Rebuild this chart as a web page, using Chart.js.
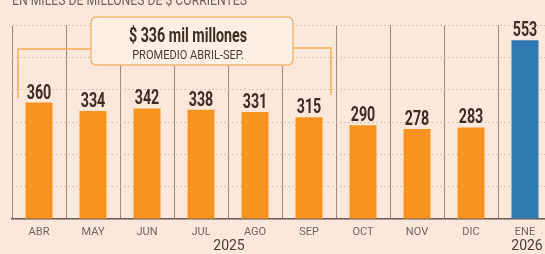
<!DOCTYPE html>
<html>
<head>
<meta charset="utf-8">
<script src="https://cdn.jsdelivr.net/npm/chart.js@4"></script>
<style>
  html, body { margin: 0; padding: 0; background: #fbe8da; overflow: hidden; }
  #wrap { width: 545px; height: 254px; overflow: hidden; position: relative; }
  canvas { position: absolute; left: 0; top: 0; }
</style>
</head>
<body>
<div id="wrap"><canvas id="chart" width="560" height="254"></canvas></div>
<script>
// ── Data ────────────────────────────────────────────────────
const months = ['ABR', 'MAY', 'JUN', 'JUL', 'AGO', 'SEP', 'OCT', 'NOV', 'DIC', 'ENE'];
const values = [360, 334, 342, 338, 331, 315, 290, 278, 283, 553];
const years = [{ text: '2025', x: 229 }, { text: '2026', x: 527 }];
const avgTitle = '$ 336 mil millones';
const avgSub = 'PROMEDIO ABRIL-SEP.';
const title = 'EN MILES DE MILLONES DE $ CORRIENTES';

const ORANGE = '#f7931e';
const BLUE = '#2f7bb1';
const INK = '#3d2b24';

// ── Helpers ─────────────────────────────────────────────────
function squeezeText(ctx, text, x, y, scaleX, align) {
    ctx.save();
    ctx.translate(x, y);
    ctx.scale(scaleX, 1);
    ctx.textAlign = align || 'center';
    ctx.fillText(text, 0, 0);
    ctx.restore();
}

function roundRect(ctx, x, y, w, h, r) {
    ctx.beginPath();
    ctx.moveTo(x + r, y);
    ctx.lineTo(x + w - r, y);
    ctx.quadraticCurveTo(x + w, y, x + w, y + r);
    ctx.lineTo(x + w, y + h - r);
    ctx.quadraticCurveTo(x + w, y + h, x + w - r, y + h);
    ctx.lineTo(x + r, y + h);
    ctx.quadraticCurveTo(x, y + h, x, y + h - r);
    ctx.lineTo(x, y + r);
    ctx.quadraticCurveTo(x, y, x + r, y);
    ctx.closePath();
}

// ── Plugins ─────────────────────────────────────────────────
const decorations = {
    id: 'decorations',
    afterDatasetsDraw(chart) {
        const ctx = chart.ctx;
        const meta = chart.getDatasetMeta(0);

        // value labels
        ctx.save();
        ctx.fillStyle = INK;
        ctx.font = 'bold 21px Roboto';
        ctx.textBaseline = 'alphabetic';
        meta.data.forEach((bar, i) => {
            squeezeText(ctx, String(values[i]), bar.x, bar.y - 4, 0.68);
        });
        ctx.restore();

        // bracket for the average
        ctx.save();
        ctx.strokeStyle = '#f4ad55';
        ctx.lineWidth = 1.5;
        ctx.beginPath();
        ctx.moveTo(18, 98);
        ctx.lineTo(18, 49);
        ctx.lineTo(92, 49);
        ctx.moveTo(292, 48);
        ctx.lineTo(331, 48);
        ctx.lineTo(331, 95);
        ctx.stroke();

        // average box
        roundRect(ctx, 91, 17, 202, 48, 6);
        ctx.fillStyle = '#fcefe4';
        ctx.fill();
        ctx.strokeStyle = '#f2b872';
        ctx.lineWidth = 1.5;
        ctx.stroke();

        ctx.fillStyle = INK;
        ctx.font = 'bold 21px Roboto';
        squeezeText(ctx, avgTitle, 188, 42, 0.68);
        ctx.fillStyle = '#4a3b35';
        ctx.font = '12px Roboto';
        ctx.textBaseline = 'middle';
        squeezeText(ctx, avgSub, 188, 56, 0.92);
        ctx.restore();

        // years
        ctx.save();
        ctx.fillStyle = '#4a403a';
        ctx.font = '14px Roboto';
        ctx.textBaseline = 'middle';
        years.forEach(y => squeezeText(ctx, y.text, y.x, 246, 1));
        ctx.restore();

        // clipped title at the top
        ctx.save();
        ctx.fillStyle = '#6b625c';
        ctx.font = '14px Roboto';
        ctx.textBaseline = 'alphabetic';
        const w = ctx.measureText(title).width;
        squeezeText(ctx, title, 12, 5, 235 / w, 'left');
        ctx.restore();
    }
};

// ── Chart ───────────────────────────────────────────────────
new Chart(document.getElementById('chart'), {
    type: 'bar',
    data: {
        labels: months,
        datasets: [{
            data: values,
            backgroundColor: values.map((v, i) => i === values.length - 1 ? BLUE : ORANGE),
            barPercentage: 0.5,
            categoryPercentage: 1,
            borderWidth: 0
        }]
    },
    options: {
        responsive: false,
        animation: false,
        layout: { padding: { left: 12, right: 8, top: 25, bottom: 0 } },
        plugins: { legend: { display: false }, tooltip: { enabled: false } },
        scales: {
            x: {
                offset: true,
                grid: { offset: true, color: '#958a83', lineWidth: 1, drawTicks: false },
                border: { display: true, color: '#6a5f58', width: 1.5 },
                ticks: { color: '#6b6560', font: { family: 'Roboto', size: 11 }, padding: 7 },
                afterFit(scale) { scale.height = 35; }
            },
            y: {
                min: 0,
                max: 600,
                ticks: { display: false, stepSize: 100 },
                grid: { color: '#d8c2b2', lineWidth: 1, drawTicks: false },
                border: { display: false, dash: [2, 2] },
                afterFit(scale) { scale.width = 0; }
            }
        }
    },
    plugins: [decorations]
});
</script>
</body>
</html>
